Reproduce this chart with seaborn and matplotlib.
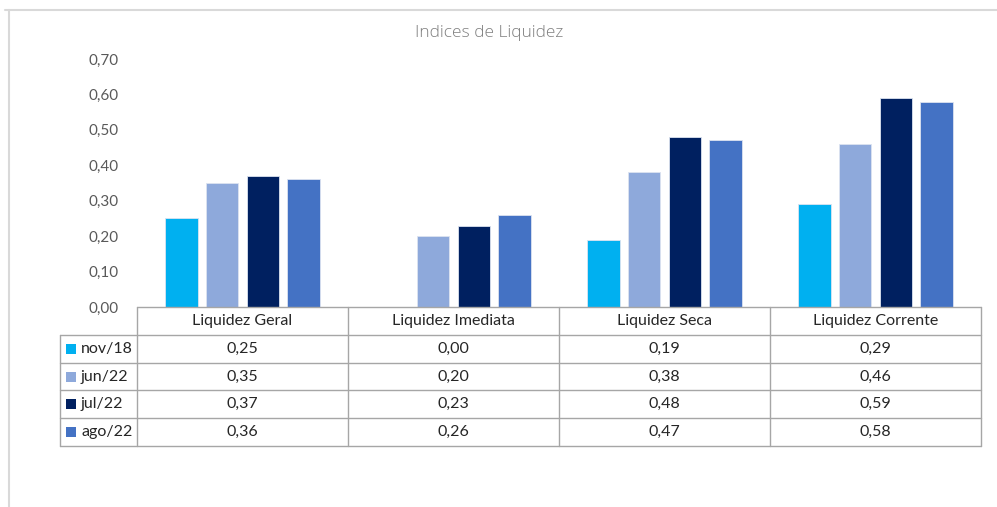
import numpy as np
import pandas as pd
import matplotlib.pyplot as plt
import matplotlib.transforms as mtransforms
from matplotlib.patches import Rectangle
from matplotlib.ticker import FuncFormatter
import seaborn as sns

# Dados
categorias = ["Liquidez Geral", "Liquidez Imediata", "Liquidez Seca", "Liquidez Corrente"]
periodos = ["nov/18", "jun/22", "jul/22", "ago/22"]
nov18 = [0.25, 0.00, 0.19, 0.29]
jun22 = [0.35, 0.20, 0.38, 0.46]
jul22 = [0.37, 0.23, 0.48, 0.59]
ago22 = [0.36, 0.26, 0.47, 0.58]
valores = [nov18, jun22, jul22, ago22]
cores = ["#00B0F0", "#8EA9DB", "#002060", "#4472C4"]

df = pd.DataFrame({
    "categoria": categorias * len(periodos),
    "periodo": np.repeat(periodos, len(categorias)),
    "valor": nov18 + jun22 + jul22 + ago22,
})

sns.set_style("white")
plt.rcParams['font.family'] = ['Lato', 'DejaVu Sans']

W, H = 997, 507
fig = plt.figure(figsize=(W / 100, H / 100), dpi=100)
ax = fig.add_axes([137 / W, 200 / H, 844 / W, 248 / H])

sns.barplot(data=df, x="categoria", y="valor", hue="periodo", palette=cores,
            saturation=1, width=0.77, gap=0.2, ax=ax, legend=False,
            edgecolor="#DCE3F0", linewidth=0.6)

ax.set_xlim(-0.5, 3.5)
ax.set_ylim(0, 0.70)
ax.set_yticks(np.arange(0, 0.71, 0.1))
ax.yaxis.set_major_formatter(FuncFormatter(lambda v, p: f"{v:.2f}".replace(".", ",")))
ax.tick_params(axis="y", length=0, pad=13, labelsize=11, labelcolor="#595959")
ax.set_xticks([])
ax.set_xlabel("")
ax.set_ylabel("")
for s in ax.spines.values():
    s.set_visible(False)

# Tabela de dados
def fy(py):
    return 1 - py / H

tr = mtransforms.blended_transform_factory(ax.transData, fig.transFigure)
linhas = np.linspace(307, 446, 6)
x_leg = -0.5 - 77 / 211
cor_linha = "#A6A6A6"
fs = 11.5

ax.plot([-0.5, 3.5], [fy(linhas[0])] * 2, transform=tr, color=cor_linha, lw=1, clip_on=False)
for yl in linhas[1:]:
    ax.plot([x_leg, 3.5], [fy(yl)] * 2, transform=tr, color=cor_linha, lw=1, clip_on=False)
ax.plot([x_leg, x_leg], [fy(linhas[1]), fy(linhas[-1])], transform=tr, color=cor_linha, lw=1, clip_on=False)
for xv in np.arange(-0.5, 3.6, 1):
    ax.plot([xv, xv], [fy(linhas[0]), fy(linhas[-1])], transform=tr, color=cor_linha, lw=1, clip_on=False)

for i, c in enumerate(categorias):
    ax.text(i, fy((linhas[0] + linhas[1]) / 2), c, transform=tr, ha="center", va="center",
            fontsize=fs, color="#262626")

for r, (per, vals, cor) in enumerate(zip(periodos, valores, cores)):
    yc = (linhas[r + 1] + linhas[r + 2]) / 2
    fig.patches.append(Rectangle((66 / W, fy(yc + 5)), 10 / W, 10 / H, transform=fig.transFigure,
                                 facecolor=cor, edgecolor="none"))
    fig.text(81 / W, fy(yc), per, ha="left", va="center", fontsize=fs, color="#262626")
    for i, v in enumerate(vals):
        ax.text(i, fy(yc), f"{v:.2f}".replace(".", ","), transform=tr, ha="center", va="center",
                fontsize=fs, color="#262626")

# Titulo e moldura
fig.text(489 / W, fy(33), "Indices de Liquidez", ha="center", va="center",
         fontsize=12.5, color="#7F7F7F", family=["Open Sans", "DejaVu Sans"], weight="light")
fig.lines.append(plt.Line2D([9 / W, 9 / W], [0, fy(10)], transform=fig.transFigure, color="#D9D9D9", lw=1.5))
fig.lines.append(plt.Line2D([5 / W, 1], [fy(10), fy(10)], transform=fig.transFigure, color="#D9D9D9", lw=1.5))

fig.savefig("out.png", dpi=100)
